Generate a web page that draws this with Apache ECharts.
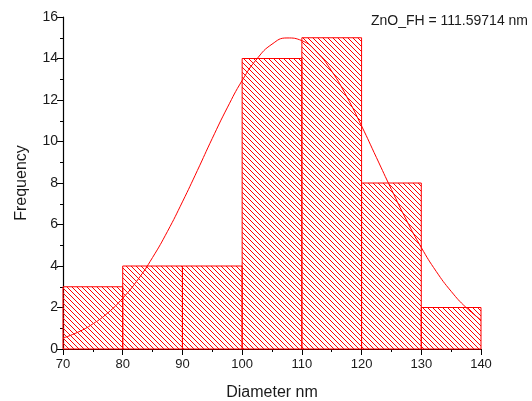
<!DOCTYPE html>
<html>
<head>
<meta charset="utf-8">
<script src="https://cdn.jsdelivr.net/npm/echarts@6/dist/echarts.min.js"></script>
<style>
html,body{margin:0;padding:0;background:#fff;}
#chart{width:532px;height:401px;}
</style>
</head>
<body>
<div id="chart"></div>
<script>
// Histogram bins
var binStarts = [70, 80, 90, 100, 110, 120, 130];
var binEnds   = [80, 90, 100, 110, 120, 130, 140];
var counts    = [3, 4, 4, 14, 15, 8, 2];

// Fit curve
var curveX = [70, 72.5, 75, 77.5, 80, 82.5, 85, 87.5, 90, 92.5, 95, 97.5, 100, 102.5, 105, 107.5, 110, 112.5, 115, 117.5, 120, 122.5, 125, 127.5, 130, 132.5, 135, 137.5, 140];
var curveY = [0.53, 0.81, 1.21, 1.74, 2.45, 3.33, 4.41, 5.67, 7.09, 8.60, 10.15, 11.62, 12.94, 13.99, 14.69, 14.99, 14.86, 14.31, 13.39, 12.17, 10.75, 9.22, 7.69, 6.22, 4.89, 3.74, 2.78, 2.00, 1.40];

var titleText = 'ZnO_FH = 111.59714 nm';
var xName = 'Diameter nm';
var yName = 'Frequency';

// Hatch pattern
function makeHatch(){
  var s = 5;
  var c = document.createElement('canvas');
  c.width = s; c.height = s;
  var ctx = c.getContext('2d');
  ctx.strokeStyle = '#ff0000';
  ctx.lineWidth = 1;
  for (var k = -1; k <= 1; k++) {
    ctx.beginPath();
    ctx.moveTo(k * s - 1, -1);
    ctx.lineTo(k * s + s + 1, s + 1);
    ctx.stroke();
  }
  return c;
}
var hatch = makeHatch();

var barData = binStarts.map(function(s, i){ return [s, binEnds[i], counts[i]]; });
var curveData = curveX.map(function(x, i){ return [x, curveY[i]]; });

var chart = echarts.init(document.getElementById('chart'));
var font = 'Liberation Sans, Arial, sans-serif';
chart.setOption({
  animation: false,
  backgroundColor: '#fff',
  title: {
    text: titleText, right: 4, top: 14, padding: 0,
    textStyle: {fontFamily: font, fontSize: 14, fontWeight: 'normal', color: '#1a1a1a'}
  },
  grid: {left: 63, right: 51, top: 17, bottom: 52, containLabel: false, outerBoundsMode: 'none'},
  xAxis: {
    type: 'value', min: 70, max: 140, interval: 10,
    name: xName, nameLocation: 'middle', nameGap: 36,
    nameTextStyle: {fontFamily: font, fontSize: 16, color: '#1a1a1a'},
    axisLine: {show: true, onZero: false, lineStyle: {color: '#000', width: 1.2}},
    axisTick: {show: true, length: 6, lineStyle: {color: '#000'}},
    minorTick: {show: true, splitNumber: 2, length: 3, lineStyle: {color: '#000'}},
    axisLabel: {fontFamily: font, fontSize: 13, color: '#1a1a1a', margin: 9},
    splitLine: {show: false}
  },
  yAxis: {
    type: 'value', min: 0, max: 16, interval: 2,
    name: yName, nameLocation: 'middle', nameGap: 33,
    nameTextStyle: {fontFamily: font, fontSize: 16, color: '#1a1a1a'},
    axisLine: {show: true, lineStyle: {color: '#000', width: 1.2}},
    axisTick: {show: true, length: 6, lineStyle: {color: '#000'}},
    minorTick: {show: true, splitNumber: 2, length: 3, lineStyle: {color: '#000'}},
    axisLabel: {fontFamily: font, fontSize: 14, color: '#1a1a1a', margin: 5},
    splitLine: {show: false}
  },
  series: [
    {
      type: 'custom',
      data: barData,
      z: 2,
      renderItem: function(params, api){
        var p0 = api.coord([api.value(0), api.value(2)]);
        var p1 = api.coord([api.value(1), 0]);
        return {
          type: 'rect',
          shape: {x: p0[0], y: p0[1], width: p1[0] - p0[0], height: p1[1] - p0[1]},
          style: {fill: {image: hatch, repeat: 'repeat'}, stroke: '#ff0000', lineWidth: 1}
        };
      }
    },
    {
      type: 'line',
      data: curveData,
      smooth: true,
      showSymbol: false,
      z: 3,
      lineStyle: {color: '#ff0000', width: 1}
    }
  ]
});
</script>
</body>
</html>
